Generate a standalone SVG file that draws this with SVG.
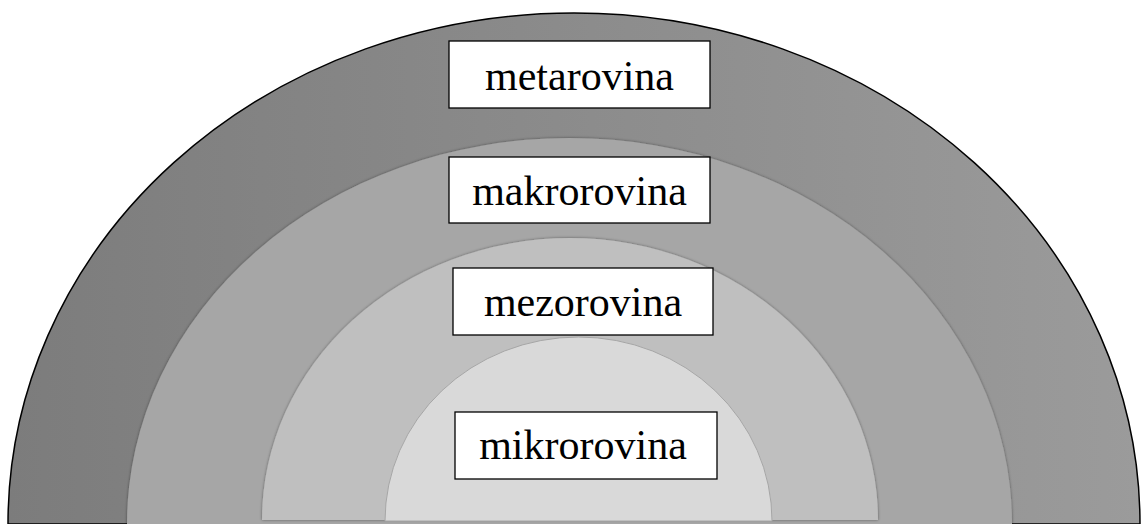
<svg xmlns="http://www.w3.org/2000/svg" width="1142" height="524" viewBox="0 0 1142 524">
<defs>
<linearGradient id="gOuter" x1="0" y1="0" x2="1" y2="0">
<stop offset="0" stop-color="#7c7c7c"/>
<stop offset="1" stop-color="#9b9b9b"/>
</linearGradient>
<filter id="sh" x="-5%" y="-5%" width="110%" height="110%">
<feDropShadow dx="0" dy="0" stdDeviation="1.6" flood-color="#000" flood-opacity="0.45"/>
</filter>
</defs>
<style>
.lbl rect{fill:#fff;stroke:#000;stroke-width:1.3}
.lbl text{font-family:"Liberation Serif","Times New Roman",serif;font-size:42px;fill:#000;text-anchor:middle}
</style>
<rect width="1142" height="524" fill="#fff"/>
<g id="layers">
<path id="meta" d="M 8 524 A 566 511 0 0 1 1140 524 Z" fill="url(#gOuter)" stroke="#000" stroke-width="1.5"/>
<path id="makro" d="M 127 524 A 442.5 386 0 0 1 1012 524 Z" fill="#a6a6a6" filter="url(#sh)"/>
<path id="mezo" d="M 262 520 A 308 282 0 0 1 878 520 Z" fill="#bfbfbf" filter="url(#sh)"/>
<path id="mikro" d="M 385 521 A 193.5 184 0 0 1 772 521 Z" fill="#d9d9d9" stroke="#a6a6a6" stroke-width="1"/>
</g>
<g id="node-metarovina" class="lbl">
<rect x="449" y="41" width="261" height="67"/>
<text x="579.5" y="89.5">metarovina</text>
</g>
<g id="node-makrorovina" class="lbl">
<rect x="449" y="157" width="261" height="66"/>
<text x="579.5" y="204.5">makrorovina</text>
</g>
<g id="node-mezorovina" class="lbl">
<rect x="453" y="268" width="260" height="67"/>
<text x="583" y="316">mezorovina</text>
</g>
<g id="node-mikrorovina" class="lbl">
<rect x="455" y="412" width="262" height="67"/>
<text x="583" y="459">mikrorovina</text>
</g>
</svg>
